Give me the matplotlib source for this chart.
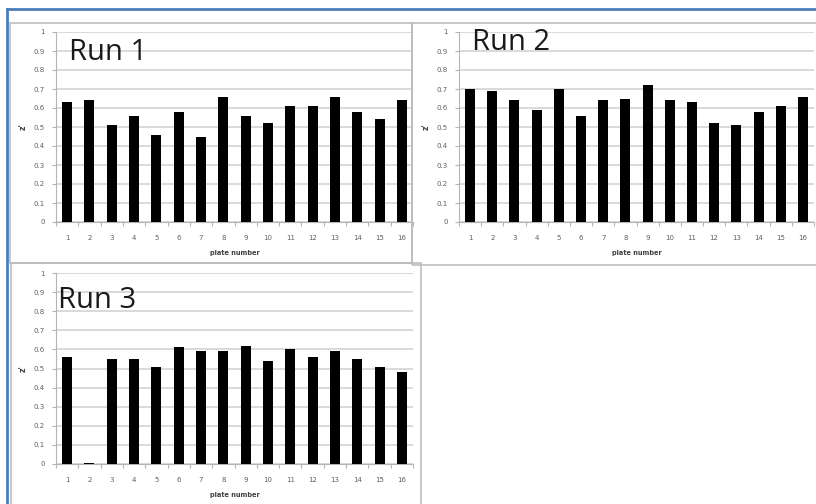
import matplotlib
matplotlib.use("Agg")
import matplotlib.pyplot as plt
from matplotlib.patches import Rectangle
import numpy as np

plates = list(range(1, 17))
run1 = [0.63, 0.64, 0.51, 0.56, 0.46, 0.58, 0.45, 0.66, 0.56, 0.52, 0.61, 0.61, 0.66, 0.58, 0.54, 0.64]
run2 = [0.70, 0.69, 0.64, 0.59, 0.70, 0.56, 0.64, 0.65, 0.72, 0.64, 0.63, 0.52, 0.51, 0.58, 0.61, 0.66]
run3 = [0.56, 0.003, 0.55, 0.55, 0.51, 0.61, 0.59, 0.59, 0.62, 0.54, 0.60, 0.56, 0.59, 0.55, 0.51, 0.48]
titles = ["Run 1", "Run 2", "Run 3"]
yticks = [0, 0.1, 0.2, 0.3, 0.4, 0.5, 0.6, 0.7, 0.8, 0.9, 1]
ytick_labels = ["0", "0.1", "0.2", "0.3", "0.4", "0.5", "0.6", "0.7", "0.8", "0.9", "1"]

W, H = 816, 504
fig = plt.figure(figsize=(W / 100, H / 100), dpi=100)
fig.patch.set_facecolor("white")


def fx(px):
    return px / W


def fy(py):
    return 1 - py / H


# outer blue frame
fig.add_artist(plt.Line2D([fx(7), fx(7)], [fy(9), fy(504)], color="#4a7ebb", lw=2))
fig.add_artist(plt.Line2D([fx(7), fx(816)], [fy(9), fy(9)], color="#4a7ebb", lw=2))

# chart-area boxes (left, top, right, bottom) in pixels
boxes = [(10, 23, 412, 263), (412, 23, 830, 265), (11, 263, 421, 520)]
for l, t, r, b in boxes:
    fig.add_artist(Rectangle((fx(l), fy(b)), fx(r) - fx(l), fy(t) - fy(b),
                             fill=False, edgecolor="#bdbdbd", lw=1.2))

# plot areas (left, top, right, bottom) in pixels
areas = [(56, 32, 413, 222), (459, 32, 814, 222), (56, 273, 413, 464)]
title_pos = [(69, 52), (472, 42), (58, 300)]
series = [run1, run2, run3]

for (l, t, r, b), vals, title, (tx, ty) in zip(areas, series, titles, title_pos):
    ax = fig.add_axes([fx(l), fy(b), fx(r) - fx(l), fy(t) - fy(b)])
    ax.bar(plates, vals, width=0.45, color="black", zorder=3)
    ax.set_xlim(0.5, 16.5)
    ax.set_ylim(0, 1)
    ax.set_yticks(yticks)
    ax.set_yticklabels(ytick_labels)
    ax.set_xticks(plates)
    ax.set_xticks(np.arange(0.5, 17, 1), minor=True)
    ax.grid(axis="y", color="#d0d0d0", lw=1.1, zorder=0)
    for s in ["top", "right"]:
        ax.spines[s].set_visible(False)
    ax.spines["left"].set_color("#b5b5b5")
    ax.spines["bottom"].set_color("#b5b5b5")
    ax.tick_params(axis="y", labelsize=5, labelcolor="#606060", color="#b5b5b5",
                   length=3, width=0.8, pad=5)
    ax.tick_params(axis="x", which="major", labelsize=5, labelcolor="#606060",
                   length=0, pad=9)
    ax.tick_params(axis="x", which="minor", color="#b5b5b5", length=3, width=0.8)
    ax.set_xlabel("plate number", fontsize=4.8, fontweight="bold", color="#404040",
                  labelpad=7)
    ax.set_ylabel("z'", fontsize=5.5, fontweight="bold", color="#404040", labelpad=4)
    fig.text(fx(tx), fy(ty), title, fontsize=21, family="Open Sans",
             color="#1a1a1a", ha="left", va="center")

fig.savefig("out.png", dpi=100, facecolor="white")
